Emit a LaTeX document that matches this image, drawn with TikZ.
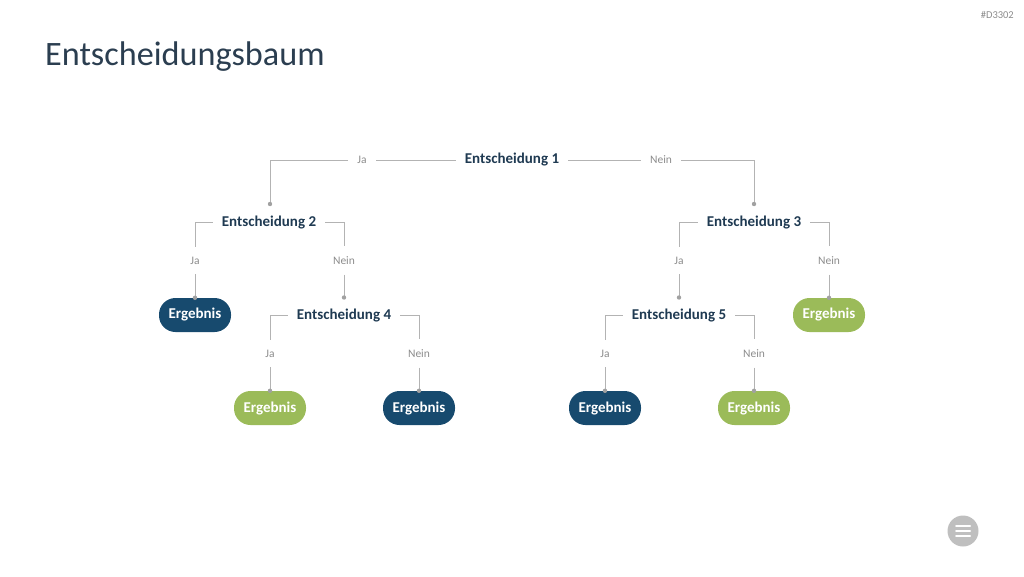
\documentclass[tikz,border=0pt]{standalone}
\usepackage{fontspec}
\setmainfont{Carlito}
\definecolor{navy}{HTML}{174A6E}
\definecolor{leaf}{HTML}{9BBB59}
\definecolor{ink}{HTML}{1F3A52}
\definecolor{titleink}{HTML}{2B3E50}
\definecolor{wire}{HTML}{B3B3B3}
\definecolor{lbltext}{HTML}{8C8C8C}
\begin{document}
\begin{tikzpicture}[x=1pt,y=-1pt,
  decision/.style={font=\fontsize{15}{17}\selectfont\bfseries, text=ink, inner xsep=9pt, inner ysep=2pt},
  lbl/.style={font=\fontsize{11.5}{13}\selectfont, text=lbltext, inner xsep=9pt, inner ysep=10pt},
  result/.style={font=\fontsize{15}{17}\selectfont\bfseries, text=white, rounded corners=16.5pt, minimum width=72pt, minimum height=34pt, inner sep=0pt},
  darkres/.style={result, fill=navy},
  greenres/.style={result, fill=leaf},
  conn/.style={draw=wire, line width=1pt},
  pin/.style={fill=wire!90!black, draw=none}
]
\useasboundingbox (0,0) rectangle (1024,576);
% title and id
\node[anchor=base west, inner sep=0, font=\fontsize{34.2}{40}\selectfont, text=titleink] (title) at (45,65) {Entscheidungsbaum};
\node[anchor=base east, inner sep=0, font=\fontsize{10.5}{12}\selectfont, text=lbltext] (id) at (1014,18) {\#D3302};

% level 1
\node[decision] (e1) at (512,160) {Entscheidung 1};
\node[lbl] (j1) at (362,160) {Ja};
\node[lbl] (n1) at (661,160) {Nein};
\coordinate (d2) at (270,204);
\coordinate (d3) at (754,204);
\draw[conn] (e1.west) -- (j1.east);
\draw[conn] (j1.west) -| (d2);
\draw[conn] (e1.east) -- (n1.west);
\draw[conn] (n1.east) -| (d3);
\fill[pin] (d2) circle (2.2pt);
\fill[pin] (d3) circle (2.2pt);

% level 2
\node[decision] (e2) at (269,222.5) {Entscheidung 2};
\node[decision] (e3) at (754,222.5) {Entscheidung 3};
\node[lbl] (j2) at (195,260.5) {Ja};
\node[lbl] (n2) at (344,260.5) {Nein};
\node[lbl] (j3) at (679,260.5) {Ja};
\node[lbl] (n3) at (829,260.5) {Nein};
\draw[conn] (e2.west) -| (j2.north);
\draw[conn] (e2.east) -| (n2.north);
\draw[conn] (e3.west) -| (j3.north);
\draw[conn] (e3.east) -| (n3.north);

% level 3
\node[darkres] (r1) at (195,315) {Ergebnis};
\node[decision] (e4) at (344,315.5) {Entscheidung 4};
\node[decision] (e5) at (679,315.5) {Entscheidung 5};
\node[greenres] (r2) at (829,315) {Ergebnis};
\coordinate (d4) at (344,297.5);
\coordinate (d5) at (679,297.5);
\draw[conn] (j2.south) -- (r1.north);
\draw[conn] (n2.south) -- (d4);
\draw[conn] (j3.south) -- (d5);
\draw[conn] (n3.south) -- (r2.north);
\fill[pin] (r1.north) circle (2.2pt);
\fill[pin] (d4) circle (2.2pt);
\fill[pin] (d5) circle (2.2pt);
\fill[pin] (r2.north) circle (2.2pt);

\node[lbl] (j4) at (270,353.5) {Ja};
\node[lbl] (n4) at (419,353.5) {Nein};
\node[lbl] (j5) at (605,353.5) {Ja};
\node[lbl] (n5) at (754,353.5) {Nein};
\draw[conn] (e4.west) -| (j4.north);
\draw[conn] (e4.east) -| (n4.north);
\draw[conn] (e5.west) -| (j5.north);
\draw[conn] (e5.east) -| (n5.north);

% level 4
\node[greenres] (r3) at (270,408) {Ergebnis};
\node[darkres] (r4) at (419,408) {Ergebnis};
\node[darkres] (r5) at (605,408) {Ergebnis};
\node[greenres] (r6) at (754,408) {Ergebnis};
\foreach \a/\b in {j4/r3,n4/r4,j5/r5,n5/r6}{
  \draw[conn] (\a.south) -- (\b.north);
  \fill[pin] (\b.north) circle (2.2pt);
}

% menu button
\node[circle, fill=black!25, minimum size=31pt, inner sep=0] (menu) at (963,531) {};
\foreach \dy in {-5,0,5}{
  \draw[white, line width=2pt, line cap=round] ([xshift=-7pt,yshift=\dy pt]menu.center) -- ([xshift=7pt,yshift=\dy pt]menu.center);
}
\end{tikzpicture}
\end{document}
